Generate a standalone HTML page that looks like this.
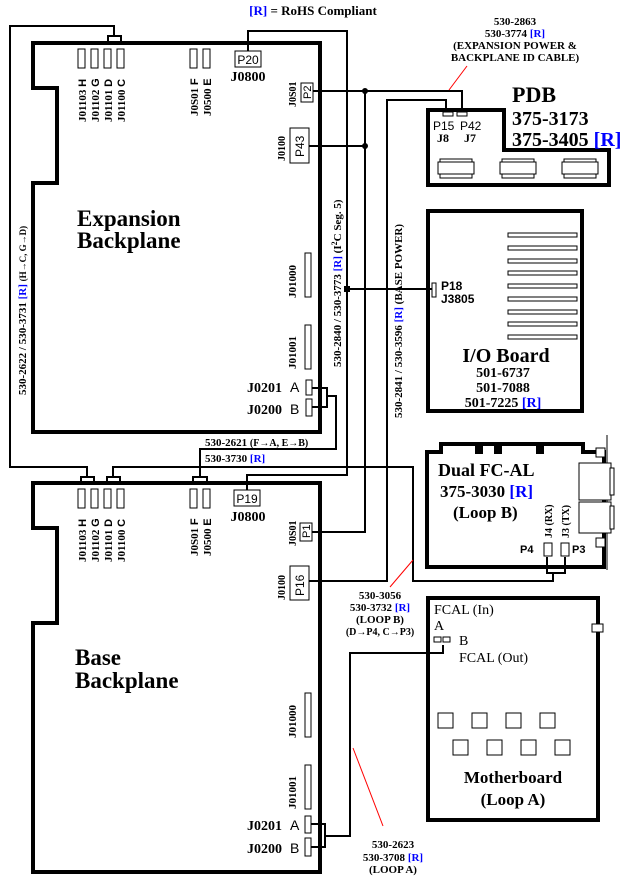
<!DOCTYPE html>
<html><head><style>
body{margin:0;background:#fff}
svg{display:block}
.s{font-family:"Liberation Serif",serif;font-weight:bold}
.a{font-family:"Liberation Sans",sans-serif}
.b{fill:#0000ff}
</style></head><body>
<svg width="628" height="879" viewBox="0 0 628 879" xmlns="http://www.w3.org/2000/svg">
<defs>
<g id="bp">
  <path d="M33,43 H320 V432 H33 V183 H57 V88 H33 Z" fill="none" stroke="#000" stroke-width="4"/>
  <g fill="#fff" stroke="#000" stroke-width="1">
    <rect x="78" y="49" width="7" height="19"/><rect x="91" y="49" width="7" height="19"/>
    <rect x="104" y="49" width="7" height="19"/><rect x="117" y="49" width="7" height="19"/>
    <rect x="190" y="49" width="7" height="19"/><rect x="203" y="49" width="7" height="19"/>
    <rect x="305" y="253" width="6" height="44"/><rect x="305" y="325" width="6" height="44"/>
  </g>
  <g class="s" font-size="11">
    <text transform="translate(86,122) rotate(-90)">J01103 <tspan class="a">H</tspan></text>
    <text transform="translate(99,122) rotate(-90)">J01102 <tspan class="a">G</tspan></text>
    <text transform="translate(112,122) rotate(-90)">J01101 <tspan class="a">D</tspan></text>
    <text transform="translate(125,122) rotate(-90)">J01100 <tspan class="a">C</tspan></text>
    <text transform="translate(198,116) rotate(-90)">J0S01 <tspan class="a">F</tspan></text>
    <text transform="translate(211,116) rotate(-90)">J0500 <tspan class="a">E</tspan></text>
    <text transform="translate(296,298) rotate(-90)">J01000</text>
    <text transform="translate(296,369) rotate(-90)">J01001</text>
  </g>
  <text class="s" font-size="14" x="248" y="81" text-anchor="middle">J0800</text>
</g>
</defs>

<use href="#bp"/>
<use href="#bp" transform="translate(0,440)"/>

<text class="s" font-size="13" x="313" y="15" text-anchor="middle"><tspan class="b">[R]</tspan> = RoHS Compliant</text>

<g fill="#fff" stroke="#000" stroke-width="1">
  <rect x="235" y="51" width="26" height="16"/>
  <rect x="301" y="83" width="12" height="19"/>
  <rect x="290" y="128" width="19" height="35"/>
  <rect x="306" y="380" width="6" height="15"/>
  <rect x="306" y="399" width="6" height="17"/>
</g>
<text class="a" font-size="12" x="248" y="64" text-anchor="middle">P20</text>
<text class="a" font-size="11" transform="translate(311,99) rotate(-90)">P2</text>
<text class="a" font-size="12" transform="translate(304,157) rotate(-90)">P43</text>
<g class="s" font-size="10">
<text transform="translate(296,107) rotate(-90)">J0S01</text>
<text transform="translate(285,161) rotate(-90)">J0100</text>
</g>
<text class="s" font-size="14" x="282" y="392" text-anchor="end">J0201</text>
<text class="a" font-size="14" x="290" y="392">A</text>
<text class="s" font-size="14" x="282" y="414" text-anchor="end">J0200</text>
<text class="a" font-size="14" x="290" y="414">B</text>
<text class="s" font-size="23" x="77" y="226">Expansion</text>
<text class="s" font-size="23" x="77" y="248">Backplane</text>

<g fill="#fff" stroke="#000" stroke-width="1">
  <rect x="234" y="490" width="26" height="16"/>
  <rect x="300" y="523" width="12" height="18"/>
  <rect x="290" y="566" width="19" height="34"/>
  <rect x="305" y="816" width="6" height="17"/>
  <rect x="305" y="838" width="6" height="18"/>
</g>
<text class="a" font-size="12" x="247" y="503" text-anchor="middle">P19</text>
<text class="a" font-size="11" transform="translate(310,538) rotate(-90)">P1</text>
<text class="a" font-size="12" transform="translate(304,596) rotate(-90)">P16</text>
<g class="s" font-size="10">
<text transform="translate(296,546) rotate(-90)">J0S01</text>
<text transform="translate(285,600) rotate(-90)">J0100</text>
</g>
<text class="s" font-size="14" x="282" y="830" text-anchor="end">J0201</text>
<text class="a" font-size="14" x="290" y="830">A</text>
<text class="s" font-size="14" x="282" y="853" text-anchor="end">J0200</text>
<text class="a" font-size="14" x="290" y="853">B</text>
<text class="s" font-size="23" x="75" y="665">Base</text>
<text class="s" font-size="23" x="75" y="688">Backplane</text>

<g fill="none" stroke="#000" stroke-width="2">
  <path d="M108,43 V36 H121 V43 M114,36 V26 H10 V467 H87 V477 M81,484 V477 H94 V484"/>
  <path d="M107,484 V477 H120 V484 M113,477 V467 H413 V581 H553 V573 M547,557 V573 H565 V557"/>
  <path d="M193,484 V477 H207 V484 M200,477 V449 H336 V396 H327 M312,388 H327 V407 H312"/>
  <path d="M248,51 V31 H347 V475 H247 V490"/>
  <path d="M313,91 H462 V112"/>
  <path d="M309,146 H365"/>
  <path d="M365,91 V532 H312"/>
  <path d="M446,112 V100 H387 V581 H309"/>
  <path d="M347,289 H433"/>
  <path d="M311,824 H325 V847 H311 M325,836 H350 V653 H443 V645"/>
</g>
<g fill="#000">
  <circle cx="365" cy="91" r="3"/><circle cx="365" cy="146" r="3"/>
  <rect x="344" y="286" width="6" height="6"/>
</g>

<text class="s" font-size="11" transform="translate(26,395) rotate(-90)">530-2622 / 530-3731 <tspan class="b">[R]</tspan> <tspan font-size="9">(H→C, G→D)</tspan></text>
<text class="s" font-size="11" transform="translate(341,367) rotate(-90)">530-2840 / 530-3773 <tspan class="b">[R]</tspan> (I<tspan font-size="8" dy="-4">2</tspan><tspan dy="4">C Seg. 5)</tspan></text>
<text class="s" font-size="11" transform="translate(402,418) rotate(-90)">530-2841 / 530-3596 <tspan class="b">[R]</tspan> (BASE POWER)</text>

<g class="s" font-size="11">
<text x="205" y="446">530-2621 <tspan font-size="10">(F→A, E→B)</tspan></text>
<text x="205" y="462">530-3730 <tspan class="b">[R]</tspan></text>
<g text-anchor="middle">
<text x="515" y="25">530-2863</text>
<text x="515" y="37">530-3774 <tspan class="b">[R]</tspan></text>
<text x="515" y="49">(EXPANSION POWER &amp;</text>
<text x="515" y="61">BACKPLANE ID CABLE)</text>
<text x="380" y="599">530-3056</text>
<text x="380" y="611">530-3732 <tspan class="b">[R]</tspan></text>
<text x="380" y="623">(LOOP B)</text>
<text x="380" y="635" font-size="10">(D→P4, C→P3)</text>
<text x="393" y="848">530-2623</text>
<text x="393" y="861">530-3708 <tspan class="b">[R]</tspan></text>
<text x="393" y="873">(LOOP A)</text>
</g>
</g>
<g stroke="#ff0000" stroke-width="1">
<line x1="467" y1="66" x2="449" y2="90"/>
<line x1="413" y1="560" x2="390" y2="587"/>
<line x1="353" y1="748" x2="383" y2="826"/>
</g>

<path d="M428,110 H504 V150 H609 V185 H428 Z" fill="none" stroke="#000" stroke-width="4"/>
<g fill="#fff" stroke="#000" stroke-width="1">
  <rect x="443" y="112" width="10" height="4"/><rect x="457" y="112" width="10" height="4"/>
  <path d="M440,162 H472 V159 H440 Z M438,162 H474 V174 H438 Z M440,174 H472 V178 H440 Z"/>
  <path d="M502,162 H534 V159 H502 Z M500,162 H536 V174 H500 Z M502,174 H534 V178 H502 Z"/>
  <path d="M564,162 H596 V159 H564 Z M562,162 H598 V174 H562 Z M564,174 H596 V178 H564 Z"/>
</g>
<g class="a" font-size="12"><text x="433" y="130">P15</text><text x="460" y="130">P42</text></g>
<g class="s" font-size="12"><text x="437" y="142">J8</text><text x="464" y="142">J7</text></g>
<text class="s" font-size="22" x="512" y="102">PDB</text>
<text class="s" font-size="20" x="512" y="125">375-3173</text>
<text class="s" font-size="20" x="512" y="146">375-3405 <tspan class="b">[R]</tspan></text>

<rect x="428" y="211" width="154" height="200" fill="none" stroke="#000" stroke-width="4"/>
<g fill="#fff" stroke="#000" stroke-width="1">
  <rect x="508" y="233" width="69" height="4"/><rect x="508" y="246" width="69" height="4"/>
  <rect x="508" y="259" width="69" height="4"/><rect x="508" y="271" width="69" height="4"/>
  <rect x="508" y="284" width="69" height="4"/><rect x="508" y="297" width="69" height="4"/>
  <rect x="508" y="310" width="69" height="4"/><rect x="508" y="322" width="69" height="4"/>
  <rect x="508" y="335" width="69" height="4"/>
  <rect x="432" y="283" width="4" height="14"/>
</g>
<text class="a" font-size="12" x="441" y="290" font-weight="bold">P18</text>
<text class="a" font-size="12" x="441" y="303" font-weight="bold">J3805</text>
<g class="s" text-anchor="middle">
<text x="506" y="362" font-size="20">I/O Board</text>
<text x="503" y="377" font-size="14">501-6737</text>
<text x="503" y="392" font-size="14">501-7088</text>
<text x="503" y="407" font-size="14">501-7225 <tspan class="b">[R]</tspan></text>
</g>

<path d="M427,452 H441 V444 H583 V452 H604 V567 H427 Z" fill="none" stroke="#000" stroke-width="4"/>
<g fill="#000"><rect x="475" y="444" width="8" height="10"/><rect x="494" y="444" width="8" height="10"/><rect x="536" y="444" width="8" height="10"/></g>
<line x1="607" y1="435" x2="607" y2="570" stroke="#000" stroke-width="1"/>
<g fill="#fff" stroke="#000" stroke-width="1">
  <rect x="596" y="448" width="9" height="9"/>
  <rect x="579" y="463" width="32" height="37"/><rect x="610" y="468" width="4" height="27"/>
  <rect x="579" y="502" width="32" height="31"/><rect x="610" y="506" width="4" height="23"/>
  <rect x="596" y="538" width="9" height="9"/>
  <rect x="544" y="543" width="8" height="13"/><rect x="561" y="543" width="8" height="13"/>
</g>
<text class="s" font-size="18" x="438" y="476">Dual FC-AL</text>
<text class="s" font-size="17" x="440" y="497">375-3030 <tspan class="b">[R]</tspan></text>
<text class="s" font-size="17" x="453" y="518">(Loop B)</text>
<g class="s" font-size="10">
<text transform="translate(552,538) rotate(-90)">J4 (RX)</text>
<text transform="translate(569,538) rotate(-90)">J3 (TX)</text>
</g>
<g class="a" font-size="11" font-weight="bold"><text x="520" y="553">P4</text><text x="572" y="553">P3</text></g>

<rect x="428" y="598" width="170" height="222" fill="none" stroke="#000" stroke-width="4"/>
<g fill="#fff" stroke="#000" stroke-width="1">
  <rect x="592" y="624" width="11" height="8"/>
  <rect x="434" y="637" width="7" height="5"/><rect x="443" y="637" width="7" height="5"/>
  <rect x="438" y="713" width="15" height="15"/><rect x="472" y="713" width="15" height="15"/>
  <rect x="506" y="713" width="15" height="15"/><rect x="540" y="713" width="15" height="15"/>
  <rect x="453" y="740" width="15" height="15"/><rect x="487" y="740" width="15" height="15"/>
  <rect x="521" y="740" width="15" height="15"/><rect x="555" y="740" width="15" height="15"/>
</g>
<g font-family="Liberation Serif,serif" font-size="14">
<text x="434" y="614">FCAL (In)</text>
<text x="434" y="630">A</text>
<text x="459" y="645">B</text>
<text x="459" y="662">FCAL (Out)</text>
</g>
<text class="s" font-size="17" x="513" y="783" text-anchor="middle">Motherboard</text>
<text class="s" font-size="17" x="513" y="805" text-anchor="middle">(Loop A)</text>
</svg>
</body></html>
